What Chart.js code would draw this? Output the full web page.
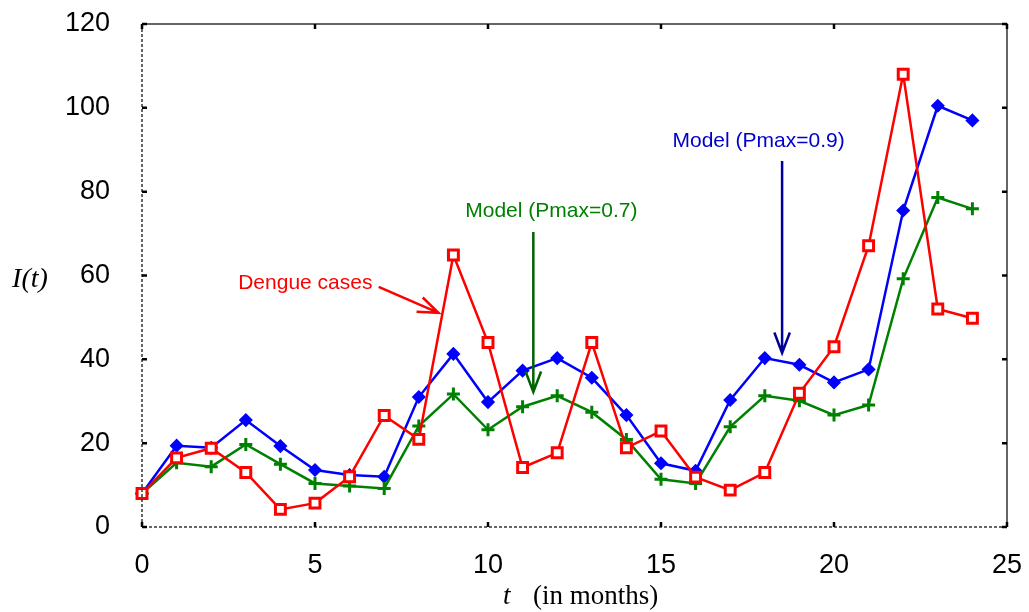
<!DOCTYPE html>
<html>
<head>
<meta charset="utf-8">
<script src="https://cdn.jsdelivr.net/npm/chart.js@4/dist/chart.umd.min.js"></script>
<style>
  html, body { margin: 0; padding: 0; background: #fff; }
  #wrap { width: 1029px; height: 612px; }
</style>
</head>
<body>
<div id="wrap"><canvas id="chart" width="1029" height="612"></canvas></div>
<script>
const months = [0, 1, 2, 3, 4, 5, 6, 7, 8, 9, 10, 11, 12, 13, 14, 15, 16, 17, 18, 19, 20, 21, 22, 23, 24];

const dengueCases = [8, 16.5, 18.8, 13, 4.2, 5.7, 12, 26.6, 20.9, 64.9, 44, 14.2, 17.7, 44, 18.9, 22.9, 11.9, 8.8, 13, 31.9, 43, 67.1, 108, 52, 49.8];
const modelP09 = [8, 19.4, 18.9, 25.5, 19.3, 13.6, 12.4, 12, 31, 41.3, 29.8, 37.3, 40.3, 35.6, 26.7, 15.2, 13.4, 30.3, 40.3, 38.7, 34.5, 37.6, 75.5, 100.5, 97];
const modelP07 = [8, 15.3, 14.4, 19.7, 15, 10.4, 9.8, 9.2, 24.1, 31.7, 23.2, 28.7, 31.3, 27.4, 20.9, 11.4, 10.4, 23.9, 31.3, 30.1, 26.7, 29.1, 59.2, 78.6, 75.9];

const xTicks = [0, 5, 10, 15, 20, 25];
const yTicks = [0, 20, 40, 60, 80, 100, 120];

// annotation labels and arrows, in data units
const notes = [
    { text: 'Dengue cases', color: '#ff0000', x: 4.72, y: 58.2 },
    { text: 'Model (Pmax=0.7)', color: '#008000', x: 11.83, y: 75.4 },
    { text: 'Model (Pmax=0.9)', color: '#0000cc', x: 17.82, y: 92.1 }
];
const arrows = [
    { color: '#ff0000', x0: 6.84, y0: 57.3, x1: 8.57, y1: 51.1 },
    { color: '#006400', x0: 11.31, y0: 70.4, x1: 11.31, y1: 32.2 },
    { color: '#000099', x0: 18.5, y0: 87.3, x1: 18.5, y1: 41.5 }
];

const toPoints = (values) => values.map((v, i) => ({ x: months[i], y: v }));

const framePlugin = {
    id: 'frame',
    afterDatasetsDraw(chart) {
        const c = chart.ctx;
        const a = chart.chartArea;
        const xs = chart.scales.x;
        const ys = chart.scales.y;
        c.save();

        // top and right solid
        c.strokeStyle = '#333';
        c.lineWidth = 1.5;
        c.setLineDash([]);
        c.beginPath();
        c.moveTo(a.left, a.top);
        c.lineTo(a.right, a.top);
        c.lineTo(a.right, a.bottom);
        c.stroke();

        // left and bottom dotted
        c.setLineDash([3, 2]);
        c.beginPath();
        c.moveTo(a.left, a.top);
        c.lineTo(a.left, a.bottom);
        c.lineTo(a.right, a.bottom);
        c.stroke();
        c.setLineDash([]);

        // inward ticks
        c.strokeStyle = '#000';
        c.lineWidth = 2.5;
        c.beginPath();
        xTicks.forEach(t => {
            const px = xs.getPixelForValue(t);
            c.moveTo(px, a.bottom);
            c.lineTo(px, a.bottom - 5);
            c.moveTo(px, a.top);
            c.lineTo(px, a.top + 5);
        });
        yTicks.forEach(t => {
            const py = ys.getPixelForValue(t);
            c.moveTo(a.left, py);
            c.lineTo(a.left + 5, py);
            c.moveTo(a.right, py);
            c.lineTo(a.right - 5, py);
        });
        c.stroke();

        // annotations
        c.font = '21px "Liberation Sans", Arial, sans-serif';
        c.textAlign = 'center';
        c.textBaseline = 'middle';
        notes.forEach(n => {
            c.fillStyle = n.color;
            c.fillText(n.text, xs.getPixelForValue(n.x), ys.getPixelForValue(n.y));
        });

        c.lineWidth = 2.5;
        arrows.forEach(r => {
            const x0 = xs.getPixelForValue(r.x0);
            const y0 = ys.getPixelForValue(r.y0);
            const x1 = xs.getPixelForValue(r.x1);
            const y1 = ys.getPixelForValue(r.y1);
            const ang = Math.atan2(y1 - y0, x1 - x0);
            const head = 22;
            const spread = 0.36;
            c.strokeStyle = r.color;
            c.beginPath();
            c.moveTo(x0, y0);
            c.lineTo(x1, y1);
            c.moveTo(x1 - head * Math.cos(ang - spread), y1 - head * Math.sin(ang - spread));
            c.lineTo(x1, y1);
            c.lineTo(x1 - head * Math.cos(ang + spread), y1 - head * Math.sin(ang + spread));
            c.stroke();
        });

        // axis titles
        c.fillStyle = '#000';
        c.font = 'italic 28px "Liberation Serif", "Times New Roman", serif';
        c.textAlign = 'center';
        c.fillText('I(t)', 30, ys.getPixelForValue(60) + 4);

        c.textAlign = 'left';
        c.font = 'italic 27px "Liberation Serif", "Times New Roman", serif';
        c.fillText('t', 503, 597);
        c.font = '27px "Liberation Serif", "Times New Roman", serif';
        c.fillText('(in months)', 533, 597);

        c.restore();
    }
};

const ctx = document.getElementById('chart');

new Chart(ctx, {
    type: 'line',
    data: {
        datasets: [
            {
                label: 'Dengue cases',
                data: toPoints(dengueCases),
                borderColor: '#ff0000',
                backgroundColor: '#ffffff',
                borderWidth: 2.5,
                pointStyle: 'rect',
                pointRadius: 7,
                pointBorderWidth: 3,
                pointBorderColor: '#ff0000',
                pointBackgroundColor: '#ffffff',
                tension: 0,
                clip: false,
                order: 0
            },
            {
                label: 'Model (Pmax=0.7)',
                data: toPoints(modelP07),
                borderColor: '#008000',
                borderWidth: 2.5,
                pointStyle: 'cross',
                pointRadius: 6.5,
                pointBorderWidth: 3,
                pointBorderColor: '#008000',
                tension: 0,
                clip: false,
                order: 1
            },
            {
                label: 'Model (Pmax=0.9)',
                data: toPoints(modelP09),
                borderColor: '#0000ff',
                borderWidth: 2.5,
                pointStyle: 'rectRot',
                pointRadius: 6,
                pointBorderWidth: 1.5,
                pointBorderColor: '#0000ff',
                pointBackgroundColor: '#0000ff',
                tension: 0,
                clip: false,
                order: 2
            }
        ]
    },
    options: {
        responsive: false,
        animation: false,
        layout: {
            padding: { top: 24, right: 22, left: 0, bottom: 0 }
        },
        plugins: {
            legend: { display: false },
            tooltip: { enabled: false }
        },
        scales: {
            x: {
                type: 'linear',
                min: 0,
                max: 25,
                afterFit: (s) => {
                    s.height = 85;
                    s.paddingLeft = 0;
                    s.paddingRight = 0;
                },
                afterBuildTicks: (s) => { s.ticks = xTicks.map(v => ({ value: v })); },
                grid: { display: false, drawTicks: false },
                border: { display: false },
                ticks: {
                    padding: 22,
                    color: '#000',
                    font: { family: '"Liberation Sans", Arial, sans-serif', size: 27 },
                    maxRotation: 0
                }
            },
            y: {
                min: 0,
                max: 120,
                afterFit: (s) => {
                    s.width = 142;
                    s.paddingTop = 0;
                    s.paddingBottom = 0;
                },
                afterBuildTicks: (s) => { s.ticks = yTicks.map(v => ({ value: v })); },
                grid: { display: false, drawTicks: false },
                border: { display: false },
                ticks: {
                    padding: 32,
                    color: '#000',
                    font: { family: '"Liberation Sans", Arial, sans-serif', size: 27 }
                }
            }
        }
    },
    plugins: [framePlugin]
});
</script>
</body>
</html>
